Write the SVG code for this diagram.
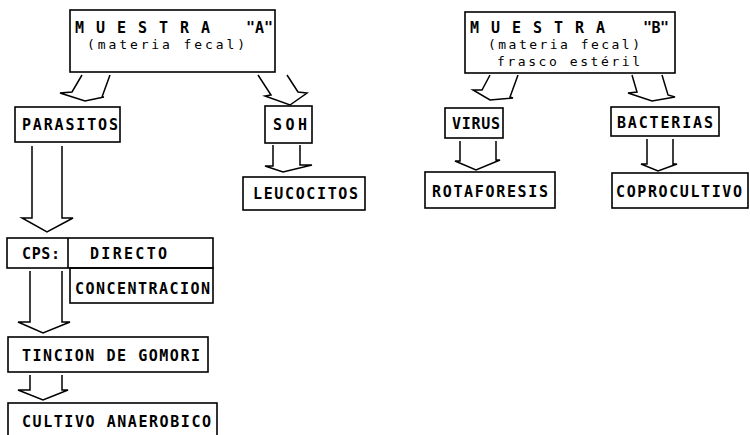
<svg xmlns="http://www.w3.org/2000/svg" width="750" height="435" viewBox="0 0 750 435">
<style>
rect,line,polyline{fill:none;stroke:#000;stroke-width:1.6}
rect.bg{fill:#fff;stroke:none}
.c polyline{stroke-width:1.5}
text{font-family:"DejaVu Sans Mono","Liberation Mono",monospace;font-size:15px;font-weight:bold;fill:#000}
.l{font-weight:normal;font-size:13px}
</style>
<rect class="bg" width="750" height="435"/>
<g id="muestraA">
<rect x="70" y="10" width="205" height="62"/>
<text x="75" y="33" textLength="135" lengthAdjust="spacing">M U E S T R A</text>
<text x="246" y="33" textLength="27" lengthAdjust="spacing">"A"</text>
<text class="l" x="87" y="49" textLength="158" lengthAdjust="spacing">(materia fecal)</text>
</g>
<g id="muestraB">
<rect x="465" y="12" width="210" height="61"/>
<text x="470" y="33" textLength="135" lengthAdjust="spacing">M U E S T R A</text>
<text x="643" y="33" textLength="26" lengthAdjust="spacing">"B"</text>
<text class="l" x="488" y="49" textLength="152" lengthAdjust="spacing">(materia fecal)</text>
<text class="l" x="497" y="66" textLength="143" lengthAdjust="spacing">frasco estéril</text>
</g>
<g id="parasitos">
<rect x="15" y="107" width="105" height="35"/>
<text x="22" y="130" textLength="96" lengthAdjust="spacing">PARASITOS</text>
</g>
<g id="soh">
<rect x="265" y="106" width="47" height="37"/>
<text x="273" y="130" textLength="34" lengthAdjust="spacing">SOH</text>
</g>
<g id="virus">
<rect x="445" y="108" width="58" height="30"/>
<text x="452" y="129" textLength="48" lengthAdjust="spacing">VIRUS</text>
</g>
<g id="bacterias">
<rect x="611" y="107" width="108" height="29"/>
<text x="617" y="128" textLength="96" lengthAdjust="spacing">BACTERIAS</text>
</g>
<g id="leucocitos">
<rect x="243" y="177" width="122" height="33"/>
<text x="253" y="199" textLength="105" lengthAdjust="spacing">LEUCOCITOS</text>
</g>
<g id="rotaforesis">
<rect x="425" y="172" width="130" height="36"/>
<text x="432" y="197" textLength="116" lengthAdjust="spacing">ROTAFORESIS</text>
</g>
<g id="coprocultivo">
<rect x="612" y="173" width="136" height="35"/>
<text x="616" y="197" textLength="126" lengthAdjust="spacing">COPROCULTIVO</text>
</g>
<g id="cps">
<rect x="7" y="238" width="206" height="30"/>
<line x1="68" y1="238" x2="68" y2="268"/>
<text x="22" y="259" textLength="38" lengthAdjust="spacing">CPS:</text>
<text x="90" y="259" textLength="77" lengthAdjust="spacing">DIRECTO</text>
</g>
<g id="concentracion">
<rect x="70" y="268" width="143" height="35"/>
<text x="75" y="294" textLength="135" lengthAdjust="spacing">CONCENTRACION</text>
</g>
<g id="tincion">
<rect x="8" y="337" width="200" height="35"/>
<text x="22" y="361" textLength="178" lengthAdjust="spacing">TINCION DE GOMORI</text>
</g>
<g id="cultivo">
<rect x="8" y="403" width="209" height="40"/>
<text x="22" y="427" textLength="189" lengthAdjust="spacing">CULTIVO ANAEROBICO</text>
</g>
<g id="connectors" class="c">
<polyline points="82,75 72,92 60,93 85,101 104,97 102,97 110,75"/>
<polyline points="258,75 271,95 265,96 290,105 307,93 298,92 287,75"/>
<polyline points="490,75 482,90 473,90 490,100 513,98 510,97 518,75"/>
<polyline points="632,75 637,92 628,93 652,101 675,97 668,95 662,75"/>
<polyline points="32,146 32,218 22,218 47,232 73,218 62,218 62,146"/>
<polyline points="273,145 273,166 265,166 283,172 312,165 300,165 300,145"/>
<polyline points="460,141 460,161 455,161 476,170 500,160 496,160 496,141"/>
<polyline points="647,139 647,164 641,164 658,171 677,164 673,164 673,139"/>
<polyline points="30,271 30,322 18,322 43,333 70,322 62,322 62,271"/>
<polyline points="30,375 30,390 18,390 43,400 68,390 62,390 62,375"/>
</g>
</svg>
